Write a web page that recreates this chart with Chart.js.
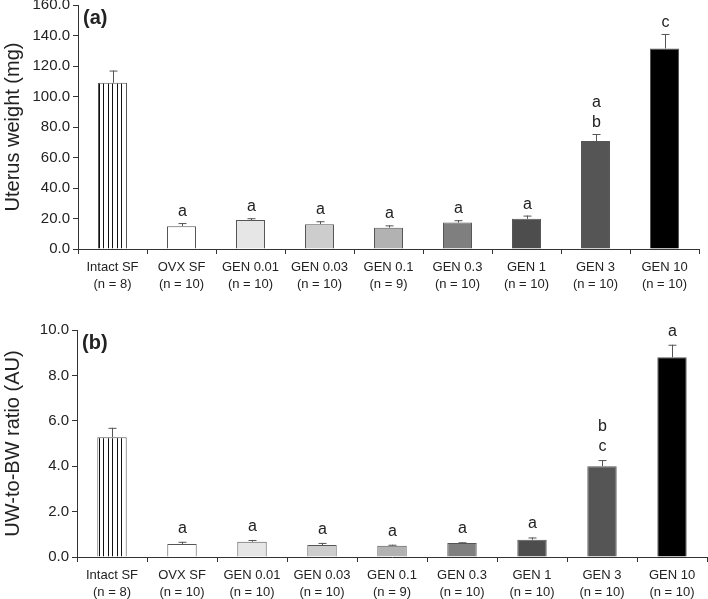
<!DOCTYPE html>
<html>
<head>
<meta charset="utf-8">
<script src="https://cdn.jsdelivr.net/npm/chart.js@4"></script>
<style>
  html, body { margin: 0; padding: 0; background: #fff; }
  .panel { position: absolute; left: 0; width: 708px; }
  #top { top: 0; height: 300px; }
  #bot { top: 300px; height: 299px; }
</style>
</head>
<body>
<div class="panel" id="top"><canvas id="chartA"></canvas></div>
<div class="panel" id="bot"><canvas id="chartB"></canvas></div>
<script>
const groups = ['Intact SF', 'OVX SF', 'GEN 0.01', 'GEN 0.03', 'GEN 0.1', 'GEN 0.3', 'GEN 1', 'GEN 3', 'GEN 10'];
const groupN = ['(n = 8)', '(n = 10)', '(n = 10)', '(n = 10)', '(n = 9)', '(n = 10)', '(n = 10)', '(n = 10)', '(n = 10)'];

// (a) uterus weight, mg
const uterusWeight = [109, 15, 19, 16.3, 14, 17.3, 19.8, 70.8, 131.5];
const uterusWeightSem = [8, 2, 1.2, 1.9, 1.5, 1.6, 2.1, 4.6, 9.5];
const uterusLetters = [[], ['a'], ['a'], ['a'], ['a'], ['a'], ['a'], ['a', 'b'], ['c']];

// (b) UW-to-BW ratio, AU
const uwBwRatio = [5.28, 0.57, 0.67, 0.53, 0.50, 0.62, 0.76, 4.0, 8.8];
const uwBwRatioSem = [0.41, 0.10, 0.08, 0.09, 0.04, 0.03, 0.10, 0.27, 0.55];
const ratioLetters = [[], ['a'], ['a'], ['a'], ['a'], ['a'], ['a'], ['b', 'c'], ['a']];

const ticksA = { min: 0, max: 160, step: 20 };
const ticksB = { min: 0, max: 10, step: 2 };

const FONT = '"Liberation Sans", Arial, sans-serif';
const INK = '#222';
const EDGE = '#555';

// vertical stripes for the intact group
function stripePattern() {
  const c = document.createElement('canvas');
  c.width = 9; c.height = 10;
  const g = c.getContext('2d');
  g.fillStyle = '#fff';
  g.fillRect(0, 0, 9, 10);
  g.fillStyle = '#111';
  g.fillRect(0, 0, 1, 10);
  g.fillRect(4, 0, 1, 10);
  return g.createPattern(c, 'repeat');
}

function barColors() {
  return [stripePattern(), '#ffffff', '#e6e6e6', '#cdcdcd', '#b2b2b2', '#7f7f7f', '#4d4d4d', '#555555', '#000000'];
}

// error bars + significance letters
const extras = {
  id: 'extras',
  afterDatasetsDraw(chart, args, opts) {
    const ctx = chart.ctx;
    const y = chart.scales.y;
    const meta = chart.getDatasetMeta(0);
    const vals = chart.data.datasets[0].data;
    ctx.save();
    meta.data.forEach((bar, i) => {
      const top = y.getPixelForValue(vals[i] + opts.sem[i]);
      const x = Math.round(bar.x) + 0.5;
      ctx.strokeStyle = EDGE;
      ctx.lineWidth = 1;
      ctx.beginPath();
      ctx.moveTo(x, bar.y);
      ctx.lineTo(x, top);
      ctx.moveTo(x - 4, top + 0.5);
      ctx.lineTo(x + 4, top + 0.5);
      ctx.stroke();

      ctx.fillStyle = INK;
      ctx.font = '16px ' + FONT;
      ctx.textAlign = 'center';
      ctx.textBaseline = 'alphabetic';
      const letters = opts.letters[i];
      letters.forEach((t, k) => {
        const base = top - opts.gap - (letters.length - 1 - k) * 20;
        ctx.fillText(t, x, base);
      });
    });
    // panel tag
    ctx.font = 'bold 20px ' + FONT;
    ctx.textAlign = 'left';
    ctx.textBaseline = 'top';
    ctx.fillText(opts.tag, chart.chartArea.left + 5, chart.chartArea.top + 3);
    ctx.restore();
  }
};

function makeChart(id, values, sem, letters, tk, yTitle, tag, geo) {
  const labels = groups.map((g, i) => [g, groupN[i]]);
  return new Chart(document.getElementById(id), {
    type: 'bar',
    data: {
      labels: labels,
      datasets: [{
        data: values,
        backgroundColor: barColors(),
        borderColor: EDGE,
        borderWidth: 1,
        barPercentage: 0.42,
        categoryPercentage: 1
      }]
    },
    options: {
      responsive: true,
      maintainAspectRatio: false,
      animation: false,
      layout: { padding: { top: geo.top, right: geo.right, left: 0, bottom: 0 } },
      scales: {
        x: {
          offset: true,
          grid: { offset: true, drawOnChartArea: false, drawTicks: true, tickLength: 5, color: '#333' },
          border: { display: true, color: '#333', width: 1 },
          ticks: {
            color: INK,
            padding: 5,
            maxRotation: 0,
            autoSkip: false,
            font: { family: FONT, size: 13, lineHeight: 1.3 }
          },
          afterFit(s) { s.height = geo.xh; s.paddingLeft = 0; s.paddingRight = 0; }
        },
        y: {
          min: tk.min,
          max: tk.max,
          grid: { drawOnChartArea: false, drawTicks: true, tickLength: 5, color: '#333' },
          border: { display: true, color: '#333', width: 1 },
          ticks: {
            stepSize: tk.step,
            color: INK,
            padding: 3,
            font: { family: FONT, size: 15 },
            callback: v => v.toFixed(1)
          },
          title: {
            display: true,
            text: yTitle,
            color: INK,
            padding: { top: 1, bottom: 0 },
            font: { family: FONT, size: 20 }
          },
          afterFit(s) { s.width = geo.yw; s.paddingTop = 0; s.paddingBottom = 0; }
        }
      },
      plugins: {
        legend: { display: false },
        tooltip: { enabled: false },
        extras: { sem: sem, letters: letters, gap: geo.gap, tag: tag }
      }
    },
    plugins: [extras]
  });
}

makeChart('chartA', uterusWeight, uterusWeightSem, uterusLetters, ticksA,
  'Uterus weight (mg)', '(a)', { top: 5, right: 9, xh: 51, yw: 78, gap: 7 });
makeChart('chartB', uwBwRatio, uwBwRatioSem, ratioLetters, ticksB,
  'UW-to-BW ratio (AU)', '(b)', { top: 30, right: 1, xh: 42, yw: 77, gap: 9 });
</script>
</body>
</html>
